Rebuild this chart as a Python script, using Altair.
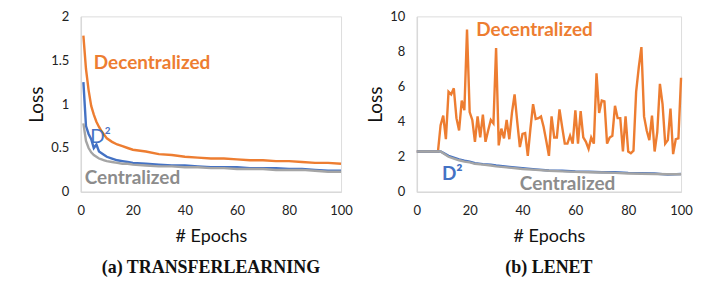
import altair as alt
import pandas as pd

# ---------- Panel (a) TransferLearning ----------
ep_a = [1, 2, 3, 4, 5, 6, 7, 8, 9, 10, 12, 14, 16, 18, 20, 25, 30, 35, 40, 45,
        50, 55, 60, 65, 70, 75, 80, 85, 90, 95, 100]
dec_a = [1.78, 1.40, 1.16, 0.98, 0.88, 0.80, 0.74, 0.69, 0.65, 0.61, 0.57, 0.54,
         0.52, 0.50, 0.48, 0.46, 0.43, 0.42, 0.40, 0.39, 0.38, 0.38, 0.37, 0.36,
         0.36, 0.35, 0.35, 0.34, 0.33, 0.33, 0.32]
d2_a = [1.25, 0.75, 0.66, 0.60, 0.50, 0.54, 0.46, 0.44, 0.42, 0.40, 0.38, 0.36,
        0.35, 0.34, 0.33, 0.32, 0.31, 0.30, 0.30, 0.29, 0.28, 0.28, 0.28, 0.27,
        0.27, 0.27, 0.26, 0.26, 0.25, 0.24, 0.24]
cen_a = [0.78, 0.58, 0.50, 0.45, 0.42, 0.40, 0.38, 0.37, 0.36, 0.35, 0.34, 0.33,
         0.32, 0.32, 0.31, 0.30, 0.29, 0.29, 0.28, 0.28, 0.27, 0.27, 0.26, 0.26,
         0.26, 0.25, 0.25, 0.25, 0.24, 0.23, 0.23]

# ---------- Panel (b) LeNet ----------
ep_b_dec = list(range(0, 101))
dec_b = [2.3, 2.3, 2.3, 2.3, 2.3, 2.3, 2.3, 2.3, 2.3, 3.8,
         4.35, 3.0, 5.7, 5.55, 5.9, 4.2, 3.5, 5.2, 4.65, 9.25,
         4.55, 4.1, 2.85, 4.3, 3.1, 4.4, 2.85, 3.5, 4.1, 3.9,
         8.2, 2.65, 3.6, 3.05, 4.1, 3.0, 4.5, 5.55, 4.0, 2.55,
         3.3, 3.35, 2.05, 3.6, 5.0, 4.15, 4.2, 4.3, 3.7, 2.9,
         2.05, 4.3, 3.1, 3.1, 4.7, 3.7, 2.75, 2.75, 3.2, 2.75,
         4.65, 2.75, 4.6, 3.1, 2.85, 2.45, 3.1, 2.75, 6.75, 4.5,
         5.2, 5.15, 2.75, 3.1, 3.2, 4.9, 4.2, 4.2, 2.3, 4.3,
         2.3, 2.2, 2.35, 5.7, 7.1, 8.25, 4.3, 3.5, 2.95, 4.35,
         2.3, 3.4, 6.15, 5.0, 2.75, 2.95, 4.75, 2.15, 3.0, 3.05,
         6.5]
ep_b = [0, 9, 10, 12, 14, 16, 18, 20, 22, 25, 28, 30, 35, 40, 45, 50, 55, 60,
        65, 70, 75, 80, 85, 90, 95, 100]
d2_b = [2.3, 2.3, 2.22, 2.05, 1.95, 1.85, 1.78, 1.72, 1.63, 1.58, 1.55, 1.5,
        1.42, 1.35, 1.28, 1.22, 1.2, 1.16, 1.15, 1.12, 1.12, 1.08, 1.07, 1.05,
        0.98, 1.02]
cen_b = [2.3, 2.3, 2.2, 2.0, 1.9, 1.8, 1.72, 1.68, 1.6, 1.55, 1.5, 1.45, 1.38,
         1.3, 1.25, 1.2, 1.17, 1.14, 1.12, 1.1, 1.08, 1.05, 1.03, 1.02, 1.0, 1.0]

series = ["Decentralized", "D2", "Centralized"]
colors = ["#ED7D31", "#4472C4", "#A5A5A5"]

# annotation labels (text, epoch, loss)
lab_a = [("Decentralized", 5.0, 1.47, "#ED7D31", "bold"),
         ("D²", 3.6, 0.62, "#4472C4", "normal"),
         ("Centralized", 1.5, 0.16, "#8C8C8C", "bold")]
lab_b = [("Decentralized", 22.5, 9.2, "#ED7D31", "bold"),
         ("D²", 9.5, 1.0, "#4472C4", "bold"),
         ("Centralized", 39.0, 0.45, "#8C8C8C", "bold")]

FONT = "Lato"


def make_df(pairs):
    rows = []
    for name, eps, vals in pairs:
        for e, v in zip(eps, vals):
            rows.append({"Series": name, "Epoch": e, "Loss": v})
    return pd.DataFrame(rows)


def panel(df, labels, ymax, ystep, w, title):
    x = alt.X("Epoch:Q", scale=alt.Scale(domain=[0, 100], nice=False),
              axis=alt.Axis(title="# Epochs", values=[0, 20, 40, 60, 80, 100],
                            grid=False, ticks=False, domainColor="#D9D9D9",
                            domainWidth=1.5, labelFont=FONT, labelFontSize=13,
                            labelColor="#222", labelPadding=13, labelOverlap=False,
                            labelFlush=False,
                            titleFont=FONT, titleFontSize=18, titleFontWeight="normal",
                            titleColor="#111", titlePadding=10))
    yvals = [round(i * ystep, 2) for i in range(int(round(ymax / ystep)) + 1)]
    y = alt.Y("Loss:Q", scale=alt.Scale(domain=[0, ymax], nice=False),
              axis=alt.Axis(title="Loss", values=yvals, grid=False, ticks=False,
                            format="~r", labelOverlap=False, labelFlush=False,
                            domainColor="#D9D9D9", domainWidth=1.5,
                            labelFont=FONT, labelFontSize=13, labelColor="#222",
                            labelPadding=12, titleFont=FONT, titleFontSize=19,
                            titleFontWeight="normal", titleColor="#111",
                            titlePadding=4))
    lines = alt.Chart(df).mark_line(strokeWidth=2.4).encode(
        x=x, y=y,
        color=alt.Color("Series:N", scale=alt.Scale(domain=series, range=colors),
                        legend=None),
        order=alt.Order("Epoch:Q"),
        detail="Series:N",
    )
    ldf = pd.DataFrame([{"t": t, "Epoch": e, "Loss": l, "c": c, "w": wgt}
                        for t, e, l, c, wgt in labels])
    texts = []
    for wgt in ["bold", "normal"]:
        sub = ldf[ldf["w"] == wgt]
        if len(sub):
            texts.append(alt.Chart(sub).mark_text(
                align="left", baseline="middle", font=FONT, fontSize=19,
                fontWeight=wgt).encode(
                x=x, y=y, text="t:N",
                color=alt.Color("c:N", scale=None)))
    return alt.layer(lines, *texts).properties(
        width=w, height=176,
        title=alt.TitleParams(title, orient="bottom", font="Liberation Serif",
                              fontSize=18, fontWeight="bold", color="#111",
                              anchor="middle", offset=13))


df_a = make_df([("Decentralized", ep_a, dec_a), ("D2", ep_a, d2_a),
                ("Centralized", ep_a, cen_a)])
df_b = make_df([("Decentralized", ep_b_dec, dec_b), ("D2", ep_b, d2_b),
                ("Centralized", ep_b, cen_b)])

pa = panel(df_a, lab_a, 2, 0.5, 261, "(a) TRANSFERLEARNING")
pb = panel(df_b, lab_b, 10, 2, 265, "(b) LENET")

chart = alt.hconcat(pa, pb, spacing=13).properties(
    padding={"left": 19, "top": 1, "right": 5, "bottom": 5}
).configure_view(stroke=None).configure(background="white")

chart.save("out.html", embed_options={"renderer": "svg", "actions": False})
